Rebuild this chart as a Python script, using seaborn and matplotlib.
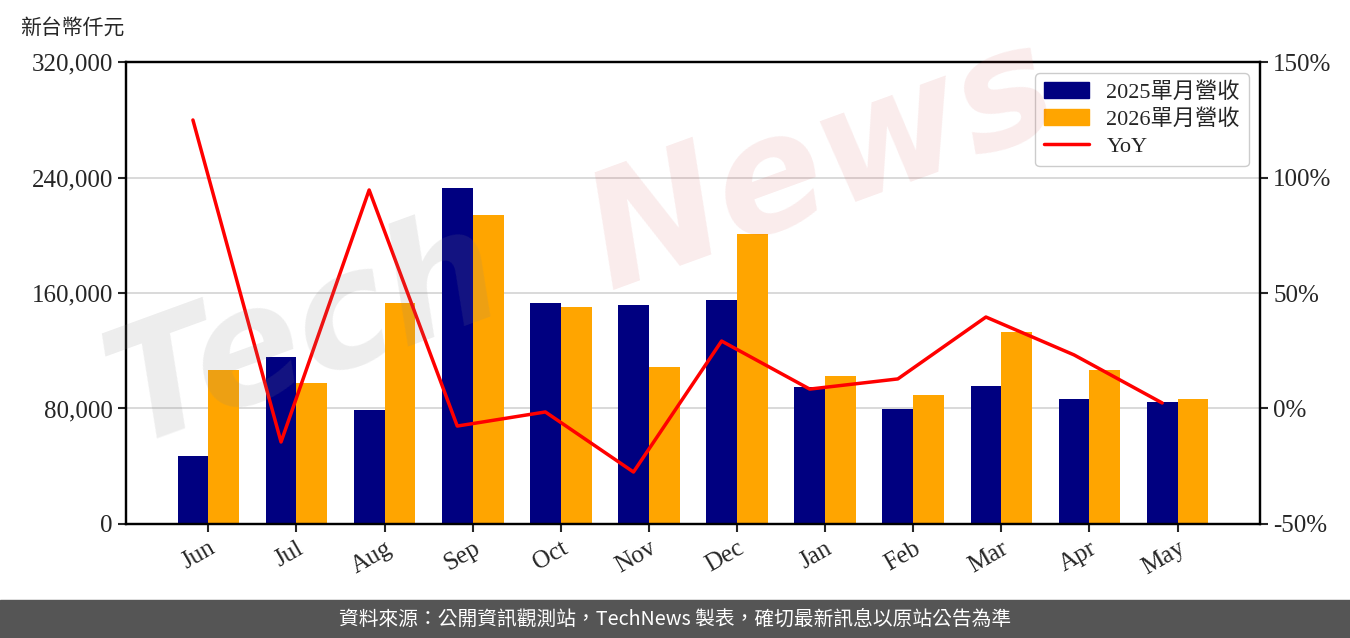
import numpy as np
import pandas as pd
import matplotlib
matplotlib.use('Agg')
import matplotlib.pyplot as plt
import matplotlib.ticker as mticker
import seaborn as sns

months = ['Jun', 'Jul', 'Aug', 'Sep', 'Oct', 'Nov', 'Dec', 'Jan', 'Feb', 'Mar', 'Apr', 'May']
rev_2025 = [47100, 115700, 79000, 232700, 153100, 151700, 155100, 94900, 79700, 95600, 86600, 84500]
rev_2026 = [106700, 97700, 153100, 214000, 150300, 108700, 200900, 102500, 89400, 133000, 106700, 86600]
yoy = [124.9, -14.5, 94.6, -7.6, -1.5, -27.5, 29.2, 8.4, 12.8, 39.6, 23.2, 2.4]

series_names = ['2025單月營收', '2026單月營收']
bar_colors = ['#000080', '#FFA500']

sns.set_style('white')
plt.rcParams['font.family'] = ['Liberation Serif', 'Noto Sans CJK TC', 'DejaVu Sans']
plt.rcParams['axes.unicode_minus'] = False

df = pd.DataFrame({
    'month': months * 2,
    'revenue': rev_2025 + rev_2026,
    'series': [series_names[0]] * len(months) + [series_names[1]] * len(months),
})

fig = plt.figure(figsize=(13.5, 6.38), dpi=100)
ax = fig.add_axes([0.0933, 0.1787, 0.84, 0.7241])

# watermark (drawn over bars with alpha)
fig.text(130 / 1350, 1 - 445 / 638, 'Tech', fontsize=115, fontweight='bold', style='italic',
         color='#888888', alpha=0.15, rotation=20, rotation_mode='anchor',
         family='DejaVu Sans', zorder=5)
fig.text(610 / 1350, 1 - 290 / 638, 'News', fontsize=115, fontweight='bold', style='italic',
         color='#d04040', alpha=0.10, rotation=20, rotation_mode='anchor',
         family='DejaVu Sans', zorder=5)

sns.barplot(data=df, x='month', y='revenue', hue='series', palette=bar_colors,
            width=0.7, saturation=1, linewidth=0, ax=ax, legend=False)

ax.set_ylim(0, 320000)
ax.set_yticks(np.arange(0, 320001, 80000))
ax.yaxis.set_major_formatter(mticker.FuncFormatter(lambda v, p: f'{int(v):,}'))
ax.grid(axis='y', color='#d3d3d3', linewidth=1.2)
ax.set_axisbelow(True)
ax.set_xlabel('')
ax.set_ylabel('')
ax.tick_params(axis='both', labelsize=18, length=6, width=1.5, direction='out',
               left=True, bottom=True)
plt.setp(ax.get_xticklabels(), rotation=30, ha='right', rotation_mode='anchor')
for s in ax.spines.values():
    s.set_linewidth(1.6)
    s.set_color('black')

# YoY line at the centres of the 2025 bars
navy_bars = ax.patches[:len(months)]
line_x = [b.get_x() + b.get_width() / 2 for b in navy_bars]

ax2 = ax.twinx()
sns.lineplot(x=line_x, y=yoy, color='red', linewidth=2.5, sort=False, ax=ax2)
ax2.set_ylim(-50, 150)
ax2.set_yticks(np.arange(-50, 151, 50))
ax2.yaxis.set_major_formatter(mticker.FuncFormatter(lambda v, p: f'{int(v)}%'))
ax2.tick_params(axis='y', labelsize=18, length=6, width=1.5, right=True)
ax2.grid(False)
for s in ax2.spines.values():
    s.set_linewidth(1.6)
    s.set_color('black')

handles = [plt.Rectangle((0, 0), 1, 1, color=c) for c in bar_colors]
handles.append(plt.Line2D([0], [0], color='red', linewidth=2.5))
ax2.legend(handles, series_names + ['YoY'], loc='upper right', fontsize=16,
           frameon=True, edgecolor='#cccccc', fancybox=True, framealpha=1,
           borderaxespad=0.5, handlelength=2.0, labelspacing=0.3)

fig.text(0.015, 0.957, '新台幣仟元', fontsize=15, va='center', ha='left',
         family=['Noto Sans CJK TC'])

# footer band
fig.patches.append(plt.Rectangle((0, 0), 1, 38 / 638, transform=fig.transFigure,
                                 color='#555555', zorder=0))
fig.text(0.5, 19 / 638, '資料來源：公開資訊觀測站，TechNews 製表，確切最新訊息以原站公告為準',
         color='white', fontsize=14.2, ha='center', va='center',
         family=['Noto Sans CJK TC'])

fig.savefig('out.png', dpi=100)
